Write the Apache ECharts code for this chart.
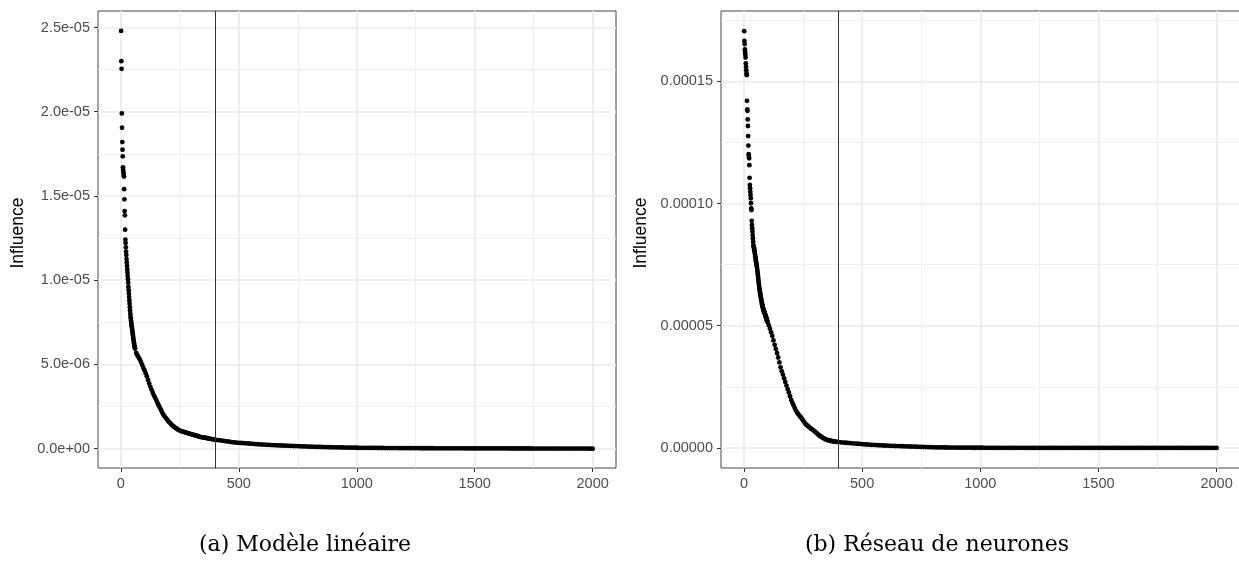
<!DOCTYPE html>
<html><head><meta charset="utf-8">
<script src="https://cdn.jsdelivr.net/npm/echarts@6/dist/echarts.min.js"></script>
<style>html,body{margin:0;padding:0;background:#fff}#c{width:1239px;height:567px}</style>
</head><body><div id="c"></div>
<script>
// ---------- DATA ----------
// Panel (a) Modèle linéaire — values in units of 1e-6
const LIN_UNIT = 1e-6;
// ranks 1..60 (one value per rank)
const linHead = [24.8,23.0,22.55,19.9,19.05,18.2,17.75,17.35,16.7,16.55,
  16.4,16.25,16.15,15.4,14.8,14.1,13.85,13.0,12.4,12.2,
  11.95,11.7,11.5,11.25,11.05,10.85,10.65,10.45,10.25,10.05,
  9.85,9.6,9.4,9.2,9.0,8.8,8.6,8.4,8.2,8.0,
  7.83,7.72,7.6,7.48,7.37,7.27,7.16,7.06,6.95,6.84,
  6.74,6.63,6.52,6.42,6.33,6.24,6.14,6.06,6.0,5.94];
// ranks 65..400, every 5 ranks
const linMid = [5.68,5.55,5.42,5.3,5.15,4.98,4.8,4.66,
  4.48,4.29,4.08,3.87,3.67,3.5,3.32,3.16,3.02,2.88,
  2.73,2.58,2.44,2.30,2.15,2.02,1.92,1.83,1.74,1.65,
  1.57,1.5,1.42,1.35,1.3,1.25,1.2,1.15,1.1,1.07,
  1.04,1.02,1.0,0.98,0.96,0.93,0.91,0.89,0.87,0.85,
  0.83,0.81,0.79,0.77,0.75,0.72,0.70,0.685,0.67,0.66,
  0.65,0.635,0.62,0.605,0.59,0.58,0.57,0.555,0.545,0.53];
// ranks 410..2000, every 10 ranks
const linTail = [0.51,0.49,0.47,0.45,0.43,0.41,0.385,0.37,0.355,0.345,
  0.335,0.325,0.315,0.305,0.295,0.28,0.27,0.26,0.25,0.242,
  0.235,0.228,0.22,0.213,0.205,0.198,0.192,0.185,0.18,0.174,
  0.168,0.162,0.156,0.15,0.144,0.138,0.133,0.128,0.123,0.118,
  0.114,0.11,0.105,0.101,0.097,0.093,0.089,0.085,0.081,0.078,
  0.075,0.072,0.069,0.066,0.063,0.06,0.058,0.056,0.054,0.052,
  0.050,0.048,0.046,0.045,0.043,0.042,0.040,0.039,0.038,0.037,
  0.036,0.035,0.034,0.033,0.032,0.031,0.030,0.029,0.0285,0.028,
  0.027,0.0265,0.026,0.025,0.0245,0.024,0.0235,0.023,0.0225,0.022,
  0.0215,0.021,0.0205,0.020,0.0195,0.019,0.0185,0.018,0.0176,0.0172,
  0.0168,0.0164,0.016,0.0156,0.0152,0.0148,0.0144,0.014,0.0137,0.0134,
  0.0131,0.0128,0.0125,0.0122,0.0119,0.0116,0.0113,0.011,0.0107,0.0104,
  0.0101,0.0098,0.0095,0.0092,0.0089,0.0086,0.0083,0.008,0.0077,0.0074,
  0.0071,0.0068,0.0065,0.0062,0.0059,0.0056,0.0053,0.005,0.0047,0.0044,
  0.0041,0.0038,0.0035,0.0032,0.003,0.0028,0.0026,0.0024,0.0022,0.002,
  0.0018,0.0016,0.0014,0.0012,0.001,0.0008,0.0006,0.0004,0.0002,0.0001];

// Panel (b) Réseau de neurones — values in units of 1e-5
const NN_UNIT = 1e-5;
// ranks 1..100
const nnHead = [17.05,16.65,16.52,16.30,16.20,16.10,15.97,15.73,15.59,15.45,
  15.32,15.25,14.20,13.85,13.79,13.44,13.17,12.76,12.37,12.02,
  11.91,11.85,11.57,11.05,10.76,10.62,10.48,10.35,10.21,10.01,
  9.80,9.73,9.29,9.12,8.99,8.85,8.71,8.58,8.44,8.30,
  8.25,8.2,8.14,8.1,8.05,7.98,7.91,7.84,7.77,7.7,
  7.64,7.58,7.52,7.46,7.4,7.32,7.24,7.16,7.08,7.0,
  6.91,6.82,6.73,6.64,6.55,6.49,6.43,6.37,6.31,6.25,
  6.19,6.14,6.08,6.03,5.97,5.93,5.88,5.84,5.79,5.75,
  5.72,5.68,5.65,5.61,5.58,5.55,5.53,5.5,5.48,5.45,
  5.42,5.39,5.36,5.33,5.3,5.27,5.24,5.21,5.18,5.15];
// ranks 105..400, every 5 ranks
const nnMid = [5.02,4.88,4.73,4.58,4.40,4.22,4.05,3.88,3.70,3.50,
  3.30,3.14,3.0,2.85,2.70,2.55,2.41,2.27,2.12,1.97,
  1.85,1.74,1.63,1.53,1.45,1.38,1.32,1.26,1.2,1.13,
  1.06,0.99,0.94,0.90,0.86,0.82,0.78,0.75,0.71,0.67,
  0.63,0.59,0.54,0.50,0.47,0.44,0.41,0.38,0.355,0.335,
  0.32,0.305,0.295,0.285,0.275,0.265,0.258,0.252,0.247,0.242];
// ranks 410..2000, every 10 ranks
const nnTail = [0.232,0.222,0.213,0.204,0.196,0.188,0.180,0.172,0.164,0.156,
  0.149,0.142,0.135,0.129,0.123,0.117,0.111,0.106,0.101,0.096,
  0.092,0.088,0.084,0.080,0.076,0.072,0.069,0.066,0.063,0.060,
  0.056,0.052,0.049,0.045,0.042,0.039,0.036,0.033,0.030,0.027,
  0.025,0.0235,0.022,0.0205,0.019,0.018,0.017,0.016,0.015,0.014,
  0.0132,0.0125,0.0118,0.0111,0.0105,0.0099,0.0093,0.0088,0.0083,0.0078,
  0.0074,0.0070,0.0066,0.0063,0.0060,0.0057,0.0054,0.0051,0.0049,0.0047,
  0.0045,0.0043,0.0041,0.0039,0.0037,0.0035,0.0034,0.0033,0.0032,0.0031,
  0.0030,0.0029,0.0028,0.0027,0.0026,0.0025,0.0024,0.0023,0.0022,0.0021,
  0.0020,0.00195,0.0019,0.00185,0.0018,0.00175,0.0017,0.00165,0.0016,0.00155,
  0.0015,0.00145,0.0014,0.00135,0.0013,0.00125,0.0012,0.00115,0.0011,0.00105,
  0.0010,0.00097,0.00094,0.00091,0.00088,0.00085,0.00082,0.00079,0.00076,0.00073,
  0.0007,0.00067,0.00064,0.00061,0.00058,0.00055,0.00052,0.00049,0.00046,0.00043,
  0.0004,0.00038,0.00036,0.00034,0.00032,0.0003,0.00028,0.00026,0.00024,0.00022,
  0.0002,0.00018,0.00016,0.00015,0.00014,0.00013,0.00012,0.00011,0.0001,0.00009,
  0.00008,0.00007,0.00006,0.00005,0.00004,0.00003,0.00002,0.000015,0.00001,0.000005];

// Axis ticks / reference line / texts
const X_TICKS = [0, 500, 1000, 1500, 2000];
const X_MINOR = [250, 750, 1250, 1750];
const LIN_Y_TICKS = [0, 5e-6, 1e-5, 1.5e-5, 2e-5, 2.5e-5];
const LIN_Y_MINOR = [2.5e-6, 7.5e-6, 1.25e-5, 1.75e-5, 2.25e-5];
const NN_Y_TICKS = [0, 5e-5, 1e-4, 1.5e-4];
const NN_Y_MINOR = [2.5e-5, 7.5e-5, 1.25e-4, 1.75e-4];
const CUTOFF = 400;
const CAPTIONS = ['(a) Modèle linéaire', '(b) Réseau de neurones'];
const Y_TITLE = 'Influence';

// ---------- BUILD ----------
function seg(vals, startRank, step, unit) {
  return vals.map((v, i) => [startRank + i * step, v * unit]);
}
const linPts = [].concat(seg(linHead, 1, 1, LIN_UNIT), seg(linMid, 65, 5, LIN_UNIT), seg(linTail, 410, 10, LIN_UNIT));
const nnPts = [].concat(seg(nnHead, 1, 1, NN_UNIT), seg(nnMid, 105, 5, NN_UNIT), seg(nnTail, 410, 10, NN_UNIT));

function sci(v) {
  const s = Number(v).toExponential(1);
  const m = s.match(/^(-?[\d.]+)e([+-])(\d+)$/);
  return m ? m[1] + 'e' + m[2] + m[3].padStart(2, '0') : s;
}
const LABEL_FONT = 'Liberation Sans';
const labelStyle = { color: '#4D4D4D', fontSize: 14.5, fontFamily: LABEL_FONT };

function xAxisCfg(gi) {
  return {
    gridIndex: gi, type: 'value', min: -97, max: 2099, position: 'bottom',
    axisLine: { show: false, onZero: false }, splitLine: { show: false },
    axisTick: { show: true, length: 4, lineStyle: { color: '#333', width: 1 }, customValues: X_TICKS },
    axisLabel: Object.assign({ customValues: X_TICKS, margin: 8, formatter: v => String(v) }, labelStyle)
  };
}
function yAxisCfg(gi, min, max, ticks, fmt) {
  return {
    gridIndex: gi, type: 'value', min: min, max: max, position: 'left',
    axisLine: { show: false, onZero: false }, splitLine: { show: false },
    axisTick: { show: true, length: 4, lineStyle: { color: '#333', width: 1 }, customValues: ticks },
    axisLabel: Object.assign({ customValues: ticks, margin: 8, formatter: fmt }, labelStyle)
  };
}
function gridLines(gi, xMaj, xMin, yMaj, yMin) {
  const d = [];
  xMin.forEach(v => d.push({ xAxis: v, lineStyle: { color: '#F0F0F0', width: 1, type: 'solid' } }));
  yMin.forEach(v => d.push({ yAxis: v, lineStyle: { color: '#F0F0F0', width: 1, type: 'solid' } }));
  xMaj.forEach(v => d.push({ xAxis: v, lineStyle: { color: '#EBEBEB', width: 1.6, type: 'solid' } }));
  yMaj.forEach(v => d.push({ yAxis: v, lineStyle: { color: '#EBEBEB', width: 1.6, type: 'solid' } }));
  return {
    type: 'scatter', xAxisIndex: gi, yAxisIndex: gi, data: [], z: 1, silent: true,
    markLine: { silent: true, z: 1, precision: 20, symbol: ['none', 'none'], label: { show: false }, animation: false, data: d }
  };
}
function pointsSeries(gi, pts) {
  return {
    type: 'scatter', xAxisIndex: gi, yAxisIndex: gi, data: pts, z: 3,
    symbol: 'circle', symbolSize: 4.8, itemStyle: { color: '#000', opacity: 1 }, silent: true,
    markLine: { silent: true, z: 4, precision: 20, symbol: ['none', 'none'], label: { show: false }, animation: false,
      data: [{ xAxis: CUTOFF, lineStyle: { color: '#333', width: 1, type: 'solid' } }] }
  };
}
function textG(txt, x, y, font, rot) {
  return { type: 'text', x: x, y: y, rotation: rot || 0, silent: true, z: 10,
    style: { text: txt, fill: '#000', font: font, align: 'center', verticalAlign: 'middle',
             textAlign: 'center', textVerticalAlign: 'middle' } };
}

const chart = echarts.init(document.getElementById('c'), null, { renderer: 'canvas' });
chart.setOption({
  animation: false,
  backgroundColor: '#fff',
  grid: [
    { left: 98, top: 11, width: 518, height: 457, show: true, borderColor: '#444', borderWidth: 1, backgroundColor: 'transparent', containLabel: false, outerBoundsMode: 'none' },
    { left: 721, top: 11, width: 519, height: 457, show: true, borderColor: '#444', borderWidth: 1, backgroundColor: 'transparent', containLabel: false, outerBoundsMode: 'none' }
  ],
  xAxis: [xAxisCfg(0), xAxisCfg(1)],
  yAxis: [
    yAxisCfg(0, -1.15e-6, 2.598e-5, LIN_Y_TICKS, v => sci(v)),
    yAxisCfg(1, -8.2e-6, 1.7875e-4, NN_Y_TICKS, v => Number(v).toFixed(5))
  ],
  series: [
    gridLines(0, X_TICKS, X_MINOR, LIN_Y_TICKS, LIN_Y_MINOR),
    gridLines(1, X_TICKS, X_MINOR, NN_Y_TICKS, NN_Y_MINOR),
    pointsSeries(0, linPts),
    pointsSeries(1, nnPts)
  ],
  graphic: [
    textG(Y_TITLE, 18, 233, '17.5px "Liberation Sans"', Math.PI / 2),
    textG(Y_TITLE, 641, 233, '17.5px "Liberation Sans"', Math.PI / 2),
    textG(CAPTIONS[0], 305, 545, '22px "DejaVu Serif"'),
    textG(CAPTIONS[1], 937, 545, '22px "DejaVu Serif"')
  ]
});
</script></body></html>
